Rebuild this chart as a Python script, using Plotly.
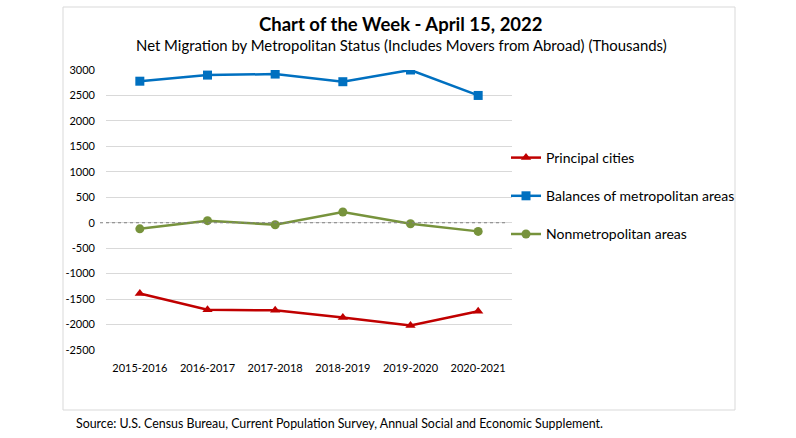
import plotly.graph_objects as go

periods = ["2015-2016", "2016-2017", "2017-2018", "2018-2019", "2019-2020", "2020-2021"]
principal_cities = [-1390, -1710, -1720, -1860, -2020, -1740]
balances_metro = [2780, 2900, 2920, 2770, 3000, 2500]
nonmetro = [-120, 40, -40, 210, -20, -170]
y_ticks = [3000, 2500, 2000, 1500, 1000, 500, 0, -500, -1000, -1500, -2000, -2500]
y_tick_text = [str(v) for v in y_ticks]

FONT = "Lato"
W, H = 796, 438
L, R, T, B = 106, 284, 70, 88
pw, ph = W - L - R, H - T - B

def px(x):
    return (x - L) / pw

def py(y):
    return (H - B - y) / ph

fig = go.Figure()
series = [
    ("Principal cities", principal_cities, "#C00000", "triangle-up"),
    ("Balances of metropolitan areas", balances_metro, "#0070C0", "square"),
    ("Nonmetropolitan areas", nonmetro, "#77933C", "circle"),
]
for name, vals, col, sym in series:
    fig.add_trace(go.Scatter(
        x=periods, y=vals, name=name, legendgroup=name, mode="lines+markers",
        line=dict(color=col, width=2.5),
        marker=dict(color=col, symbol=sym, size=9),
    ))

# frame
fig.add_shape(type="rect", xref="paper", yref="paper",
              x0=px(63), x1=px(735), y0=py(410), y1=py(7),
              line=dict(color="#D9D9D9", width=1), layer="below")
# dotted zero line
fig.add_shape(type="line", xref="paper", yref="y",
              x0=px(100), x1=px(506), y0=0, y1=0,
              line=dict(color="#808080", width=1.2, dash="dot"))

fig.add_annotation(text="<b>Chart of the Week - April 15, 2022</b>", xref="paper", yref="paper",
                   x=px(401), y=py(24), xanchor="center", yanchor="middle", showarrow=False,
                   font=dict(family=FONT, size=18.5, color="#000000"))
fig.add_annotation(text="Net Migration by Metropolitan Status (Includes Movers from Abroad) (Thousands)",
                   xref="paper", yref="paper", x=px(401), y=py(45), xanchor="center", yanchor="middle",
                   showarrow=False, font=dict(family=FONT, size=14.9, color="#000000"))
fig.add_annotation(text="Source: U.S. Census Bureau, Current Population Survey, Annual Social and Economic Supplement.",
                   xref="paper", yref="paper", x=px(74), y=py(423), xanchor="left", yanchor="middle",
                   showarrow=False, font=dict(family=FONT, size=12.4, color="#000000"))

fig.update_layout(
    width=W, height=H, margin=dict(l=L, r=R, t=T, b=B),
    paper_bgcolor="white", plot_bgcolor="white",
    font=dict(family=FONT, size=11, color="#404040"),
    showlegend=True,
    legend=dict(x=px(506), y=py(142), xanchor="left", yanchor="top",
                font=dict(family=FONT, size=14, color="#000000"),
                tracegroupgap=17, itemwidth=30, bgcolor="rgba(0,0,0,0)"),
    xaxis=dict(range=[-0.5, 5.5], showgrid=False, showline=False, ticks="", ticklabelstandoff=10,
               tickfont=dict(family=FONT, size=11, color="#000000")),
    yaxis=dict(range=[-2500, 3000], tickvals=y_ticks, ticktext=y_tick_text, showgrid=True,
               gridcolor="#D9D9D9", gridwidth=1, zeroline=False, showline=False, ticks="",
               ticklabelstandoff=10, tickfont=dict(family=FONT, size=11, color="#000000")),
)

fig.write_html("out.html", config={"displayModeBar": False},
               post_script="document.body.style.margin='0';")
